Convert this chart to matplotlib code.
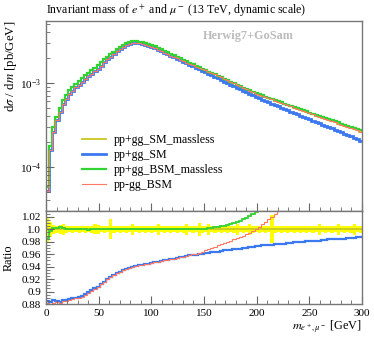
import numpy as np
import matplotlib.pyplot as plt
from matplotlib.ticker import FixedLocator, MultipleLocator, LogLocator, NullFormatter

plt.rcParams['font.family'] = ['Liberation Serif', 'DejaVu Serif']
plt.rcParams['mathtext.fontset'] = 'stix'

# binning: 3 GeV bins from 0 to 300
edges = np.arange(0, 301, 3)

# dsigma/dm in units of 1e-4 pb/GeV
xs_sm_massless = [
    0.58, 1.75, 2.95, 3.95, 5.0, 6.2, 7.2, 8.2, 9.0, 9.8,
    10.6, 11.4, 12.3, 13.2, 14.1, 15.1, 16.2, 17.5, 19.0, 20.5,
    22.0, 23.6, 25.2, 26.8, 28.3, 29.6, 30.6, 31.2, 31.3, 31.0,
    30.5, 29.8, 29.0, 28.1, 27.1, 26.1, 25.1, 24.1, 23.1, 22.2,
    21.3, 20.4, 19.6, 18.8, 18.0, 17.3, 16.6, 15.9, 15.3, 14.7,
    14.2, 13.6, 13.1, 12.6, 12.1, 11.6, 11.1, 10.7, 10.3, 9.9,
    9.5, 9.1, 8.7, 8.4, 8.1, 7.8, 7.45, 7.2, 7.0, 6.75,
    6.55, 6.35, 6.15, 5.95, 5.75, 5.57, 5.4, 5.23, 5.07, 4.91,
    4.76, 4.61, 4.47, 4.33, 4.2, 4.07, 3.94, 3.82, 3.70, 3.59,
    3.48, 3.37, 3.27, 3.17, 3.07, 2.97, 2.88, 2.79, 2.71, 2.63]
xs_sm = [
    0.51, 1.58, 2.59, 3.6, 4.5, 5.6, 6.5, 7.4, 8.1, 8.8,
    9.5, 10.3, 11.1, 11.9, 12.8, 13.7, 14.8, 16.0, 17.5, 19.0,
    20.5, 22.1, 23.7, 25.2, 26.7, 28.0, 29.1, 29.6, 29.7, 29.5,
    29.0, 28.3, 27.6, 26.7, 25.8, 24.8, 23.9, 22.9, 22.0, 21.1,
    20.2, 19.4, 18.6, 17.9, 17.1, 16.4, 15.8, 15.1, 14.5, 13.9,
    13.4, 12.8, 12.3, 11.8, 11.3, 10.8, 10.35, 9.95, 9.55, 9.15,
    8.75, 8.4, 8.0, 7.7, 7.4, 7.1, 6.8, 6.55, 6.3, 6.05,
    5.85, 5.65, 5.45, 5.25, 5.05, 4.87, 4.7, 4.53, 4.37, 4.21,
    4.06, 3.91, 3.77, 3.68, 3.54, 3.42, 3.3, 3.18, 3.07, 2.96,
    2.86, 2.76, 2.66, 2.57, 2.48, 2.39, 2.31, 2.23, 2.15, 2.05]
xs_bsm_massless = [
    0.58, 1.75, 2.95, 3.95, 5.0, 6.2, 7.2, 8.2, 9.0, 9.8,
    10.6, 11.4, 12.3, 13.2, 14.1, 15.1, 16.2, 17.5, 19.0, 20.5,
    22.0, 23.6, 25.2, 26.8, 28.3, 29.6, 30.6, 31.2, 31.3, 31.0,
    30.5, 29.8, 29.0, 28.1, 27.1, 26.1, 25.1, 24.1, 23.1, 22.2,
    21.3, 20.4, 19.6, 18.8, 18.0, 17.3, 16.6, 15.9, 15.3, 14.7,
    14.2, 13.6, 13.1, 12.6, 12.1, 11.65, 11.15, 10.75, 10.35, 9.95,
    9.55, 9.16, 8.77, 8.47, 8.17, 7.87, 7.53, 7.28, 7.08, 6.84,
    6.64, 6.44, 6.25, 6.05, 5.85, 5.67, 5.5, 5.33, 5.17, 5.01,
    4.86, 4.71, 4.57, 4.43, 4.3, 4.17, 4.04, 3.92, 3.8, 3.69,
    3.58, 3.47, 3.37, 3.27, 3.17, 3.07, 2.98, 2.89, 2.8, 2.72]
xs_bsm = [
    0.51, 1.58, 2.59, 3.6, 4.5, 5.6, 6.5, 7.4, 8.1, 8.8,
    9.5, 10.3, 11.1, 11.9, 12.8, 13.7, 14.8, 16.0, 17.5, 19.0,
    20.5, 22.1, 23.7, 25.2, 26.7, 28.0, 29.1, 29.6, 29.7, 29.5,
    29.0, 28.3, 27.6, 26.7, 25.8, 24.8, 23.9, 22.9, 22.0, 21.1,
    20.2, 19.5, 18.8, 18.1, 17.4, 16.8, 16.2, 15.6, 15.1, 14.6,
    14.2, 13.6, 13.1, 12.6, 12.1, 11.6, 11.1, 10.7, 10.3, 9.9,
    9.5, 9.1, 8.7, 8.4, 8.1, 7.8, 7.45, 7.2, 7.0, 6.75,
    6.55, 6.35, 6.15, 5.95, 5.75, 5.57, 5.4, 5.23, 5.07, 4.91,
    4.76, 4.61, 4.47, 4.33, 4.2, 4.07, 3.94, 3.82, 3.70, 3.59,
    3.48, 3.37, 3.27, 3.17, 3.07, 2.97, 2.88, 2.79, 2.71, 2.63]

# ratio panel (to pp+gg_SM_massless)
ref_err = [
    0.02, 0.012, 0.007, 0.006, 0.007, 0.009, 0.006, 0.005, 0.006, 0.005,
    0.006, 0.005, 0.006, 0.005, 0.006, 0.008, 0.007, 0.005, 0.006, 0.005,
    0.016, 0.006, 0.005, 0.006, 0.005, 0.006, 0.005, 0.009, 0.005, 0.006,
    0.005, 0.006, 0.005, 0.006, 0.005, 0.009, 0.005, 0.006, 0.005, 0.006,
    0.005, 0.006, 0.005, 0.006, 0.009, 0.005, 0.006, 0.005, 0.010, 0.006,
    0.005, 0.009, 0.005, 0.006, 0.005, 0.006, 0.005, 0.006, 0.005, 0.006,
    0.009, 0.005, 0.006, 0.005, 0.009, 0.006, 0.005, 0.006, 0.005, 0.006,
    0.005, 0.0225, 0.006, 0.005, 0.006, 0.005, 0.006, 0.005, 0.006, 0.005,
    0.006, 0.005, 0.006, 0.005, 0.006, 0.005, 0.009, 0.005, 0.006, 0.005,
    0.006, 0.005, 0.009, 0.005, 0.006, 0.005, 0.006, 0.009, 0.005, 0.006]
ratio_sm = [
    0.885, 0.884, 0.886, 0.885, 0.884, 0.887, 0.886, 0.888, 0.889, 0.890,
    0.891, 0.893, 0.896, 0.899, 0.902, 0.905, 0.908, 0.912, 0.916, 0.920,
    0.924, 0.927, 0.930, 0.932, 0.934, 0.936, 0.938, 0.940, 0.941, 0.942,
    0.943, 0.944, 0.945, 0.946, 0.947, 0.948, 0.949, 0.950, 0.951, 0.952,
    0.953, 0.954, 0.955, 0.956, 0.957, 0.958, 0.958, 0.959, 0.960, 0.961,
    0.962, 0.962, 0.963, 0.964, 0.964, 0.965, 0.966, 0.966, 0.967, 0.968,
    0.968, 0.969, 0.970, 0.970, 0.971, 0.972, 0.973, 0.973, 0.974, 0.974,
    0.975, 0.975, 0.976, 0.976, 0.977, 0.977, 0.978, 0.978, 0.979, 0.979,
    0.980, 0.980, 0.981, 0.981, 0.982, 0.982, 0.982, 0.983, 0.983, 0.984,
    0.984, 0.984, 0.985, 0.985, 0.985, 0.986, 0.986, 0.986, 0.987, 0.987]
ratio_bsm_massless = [
    0.986, 0.998, 1.002, 1.002, 1.003, 1.002, 1.001, 1.001, 1.000, 1.000,
    1.001, 1.000, 1.000, 0.999, 1.000, 1.000, 1.000, 1.001, 1.000, 1.000,
    1.000, 1.000, 1.000, 1.000, 1.000, 1.000, 1.000, 1.000, 1.000, 1.000,
    1.000, 1.000, 1.000, 1.000, 1.000, 1.000, 1.000, 1.000, 1.000, 1.000,
    1.000, 1.000, 1.000, 1.000, 1.000, 1.000, 1.000, 1.000, 1.001, 1.001,
    1.001, 1.002, 1.002, 1.003, 1.004, 1.005, 1.006, 1.007, 1.008, 1.010,
    1.012, 1.014, 1.016, 1.018, 1.021, 1.024, 1.027, 1.030, 1.034, 1.038,
    1.042, 1.046, 1.050, 1.055, 1.060, 1.065, 1.070, 1.075, 1.080, 1.085,
    1.090, 1.095, 1.100, 1.105, 1.110, 1.115, 1.120, 1.125, 1.130, 1.135,
    1.140, 1.145, 1.150, 1.155, 1.160, 1.165, 1.170, 1.175, 1.180, 1.185]
ratio_bsm = [
    0.882, 0.880, 0.882, 0.883, 0.882, 0.885, 0.885, 0.887, 0.888, 0.889,
    0.890, 0.892, 0.895, 0.898, 0.901, 0.904, 0.908, 0.912, 0.916, 0.920,
    0.924, 0.927, 0.930, 0.932, 0.934, 0.936, 0.938, 0.940, 0.941, 0.942,
    0.943, 0.944, 0.945, 0.946, 0.947, 0.948, 0.949, 0.950, 0.951, 0.952,
    0.953, 0.954, 0.955, 0.956, 0.957, 0.958, 0.960, 0.961, 0.962, 0.964,
    0.966, 0.968, 0.970, 0.972, 0.974, 0.976, 0.978, 0.980, 0.982, 0.984,
    0.986, 0.988, 0.990, 0.992, 0.994, 0.997, 1.000, 1.004, 1.008, 1.012,
    1.016, 1.020, 1.025, 1.030, 1.035, 1.040, 1.045, 1.050, 1.055, 1.060,
    1.065, 1.070, 1.075, 1.080, 1.085, 1.090, 1.095, 1.100, 1.105, 1.110,
    1.115, 1.120, 1.125, 1.130, 1.135, 1.140, 1.145, 1.150, 1.155, 1.160]

labels = ['pp+gg_SM_massless', 'pp+gg_SM', 'pp+gg_BSM_massless', 'pp-gg_BSM']
colors = ['#c8c81e', '#3c78f0', '#32d232', '#ff7864']
widths = [1.3, 2.0, 1.6, 0.8]

fig = plt.figure(figsize=(3.74, 3.37), dpi=100)
ax = fig.add_axes([0.123, 0.3748, 0.845, 0.5629])
rax = fig.add_axes([0.123, 0.0979, 0.845, 0.2769])

series = [xs_sm_massless, xs_sm, xs_bsm_massless, xs_bsm]
for vals, lab, c, lw in zip(series, labels, colors, widths):
    ax.stairs(np.array(vals) * 1e-4, edges, color=c, lw=lw, label=lab, baseline=None)

ax.set_yscale('log')
ax.set_xlim(0, 300)
ax.set_ylim(3.0e-5, 5.45e-3)
ax.set_ylabel(r'd$\sigma$ / d$m$ [pb/GeV]', fontsize=9.2, loc='top')
ax.set_title(r'Invariant mass of $e^+$ and $\mu^-$ (13 TeV, dynamic scale)',
             fontsize=8.6, loc='left', pad=5)
ax.text(0.64, 0.955, 'Herwig7+GoSam', transform=ax.transAxes, ha='center', va='top',
        color='#bbbbbb', fontsize=8.8, fontweight='bold')
ax.legend(loc='lower left', bbox_to_anchor=(0.1, 0.08), frameon=False,
          fontsize=8.6, handlelength=2.0, handletextpad=0.6,
          labelspacing=0.25, borderaxespad=0)

# ratio panel
rax.stairs(np.ones(100) + np.array(ref_err), edges, baseline=np.ones(100) - np.array(ref_err),
           fill=True, color='#ffff00', lw=0)
rax.stairs(np.ones(100), edges, color=colors[0], lw=1.3, baseline=None)
rax.stairs(ratio_sm, edges, color=colors[1], lw=1.6, baseline=None)
rax.stairs(ratio_bsm_massless, edges, color=colors[2], lw=1.3, baseline=None)
rax.stairs(ratio_bsm, edges, color=colors[3], lw=0.8, baseline=None)
rax.set_xlim(0, 300)
rax.set_ylim(0.88, 1.0299)
rax.yaxis.set_major_locator(FixedLocator([0.88, 0.9, 0.92, 0.94, 0.96, 0.98, 1.0, 1.02]))
rax.set_yticklabels(['0.88', '0.9', '0.92', '0.94', '0.96', '0.98', '1.0', '1.02'])
rax.yaxis.set_minor_locator(MultipleLocator(0.005))
rax.set_ylabel('Ratio', fontsize=8.8)
rax.set_xlabel(r'$m_{e^+,\mu^-}$ [GeV]', fontsize=8.8, loc='right', labelpad=1)

for a in [ax, rax]:
    a.xaxis.set_major_locator(MultipleLocator(50))
    a.xaxis.set_minor_locator(MultipleLocator(10))
    a.tick_params(which='both', direction='in', top=False, right=False,
                  labelsize=8, color='#666666')
    a.tick_params(which='major', length=6)
    a.tick_params(which='minor', length=3)
    for s in a.spines.values():
        s.set_color('#777777')
        s.set_linewidth(1.0)
ax.yaxis.set_minor_locator(LogLocator(base=10, subs=np.arange(2, 10)))
ax.yaxis.set_minor_formatter(NullFormatter())
ax.tick_params(labelbottom=False)
ax.yaxis.set_label_coords(-0.085, 1.0)
rax.yaxis.set_label_coords(-0.1, 0.5)

fig.savefig('out.png', dpi=100)
